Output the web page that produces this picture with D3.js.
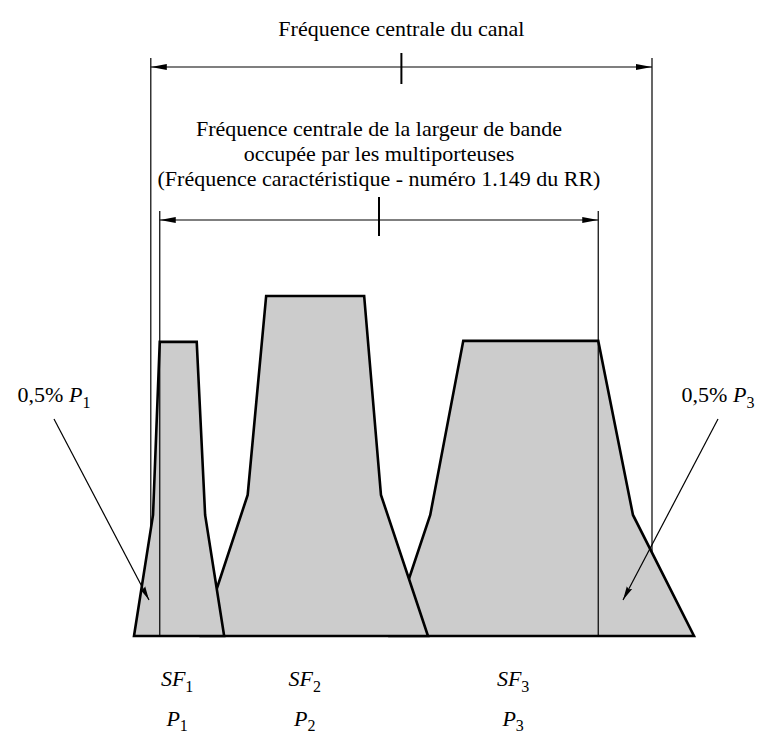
<!DOCTYPE html>
<html>
<head>
<meta charset="utf-8">
<script src="https://cdn.jsdelivr.net/npm/d3@7"></script>
<style>
  body { margin: 0; background: #fff; }
  svg text { font-family: "Liberation Serif", "DejaVu Serif", serif; }
</style>
</head>
<body>
<div id="chart"></div>
<script>
// frequency in arbitrary units (0..100), level in % of the highest carrier
const carriers = ["SF1", "SF2", "SF3"];
const powers = ["P1", "P2", "P3"];
const sf1Freq = [0, 3.4, 4.6, 11.2, 12.7, 16.1];
const sf1Level = [0, 35.6, 86.5, 86.5, 35.6, 0];
const sf2Freq = [12.0, 20.3, 23.6, 41.1, 44.1, 52.5];
const sf2Level = [0, 41.5, 100, 100, 41.5, 0];
const sf3Freq = [45.7, 52.9, 58.8, 82.9, 89.1, 100];
const sf3Level = [0, 35.6, 86.8, 86.8, 35.6, 0];
const labelFreq = [7.7, 30.5, 67.7];
const channelEdges = [3.0, 92.5];
const bandEdges = [4.6, 82.9];
const titles = ["Fréquence centrale du canal"];
const bandText = ["Fréquence centrale de la largeur de bande",
                  "occupée par les multiporteuses",
                  "(Fréquence caractéristique - numéro 1.149 du RR)"];

let width = 761,
    height = 734;

let x = d3.scaleLinear().domain([0, 100]).range([134, 694]);
let y = d3.scaleLinear().domain([0, 100]).range([636, 296]);

let svg = d3.select("#chart")
  .append("svg")
    .attr("width", width)
    .attr("height", height);

let defs = svg.append("defs");
defs.append("marker")
    .attr("id", "head")
    .attr("viewBox", "0 0 16 8")
    .attr("refX", 16).attr("refY", 4)
    .attr("markerWidth", 16).attr("markerHeight", 8)
    .attr("markerUnits", "userSpaceOnUse")
    .attr("orient", "auto-start-reverse")
  .append("path")
    .attr("d", "M0,1L16,4L0,7Z")
    .attr("fill", "#000");
defs.append("marker")
    .attr("id", "thin")
    .attr("viewBox", "0 0 14 8")
    .attr("refX", 14).attr("refY", 4)
    .attr("markerWidth", 14).attr("markerHeight", 8)
    .attr("markerUnits", "userSpaceOnUse")
    .attr("orient", "auto")
  .append("path")
    .attr("d", "M0,1L14,4L0,7L2,4Z")
    .attr("fill", "#000");

// outer channel lines, under the spectra
svg.selectAll(".outer")
  .data(channelEdges)
  .enter()
  .append("line")
    .attr("x1", d => x(d)).attr("x2", d => x(d))
    .attr("y1", 58).attr("y2", y(0))
    .attr("stroke", "#000").attr("stroke-width", 1.2);

// spectra drawn back to front
let shapes = [
  d3.zip(sf3Freq, sf3Level),
  d3.zip(sf2Freq, sf2Level),
  d3.zip(sf1Freq, sf1Level)
];
let line = d3.line().x(d => x(d[0])).y(d => y(d[1]));

svg.selectAll(".carrier")
  .data(shapes)
  .enter()
  .append("path")
    .attr("d", d => line(d) + "Z")
    .attr("fill", "#cccccc")
    .attr("stroke", "#000")
    .attr("stroke-width", 2.6)
    .attr("stroke-linejoin", "miter");

// inner band lines on top
svg.selectAll(".inner")
  .data(bandEdges)
  .enter()
  .append("line")
    .attr("x1", d => x(d)).attr("x2", d => x(d))
    .attr("y1", 211).attr("y2", y(0))
    .attr("stroke", "#000").attr("stroke-width", 1.2);

// dimension arrows with centre ticks
function dimension(edges, yy, tick) {
  svg.append("line")
    .attr("x1", x(edges[0])).attr("x2", x(edges[1]))
    .attr("y1", yy).attr("y2", yy)
    .attr("stroke", "#000").attr("stroke-width", 1.2)
    .attr("marker-start", "url(#head)")
    .attr("marker-end", "url(#head)");
  let c = x((edges[0] + edges[1]) / 2);
  svg.append("line")
    .attr("x1", c).attr("x2", c)
    .attr("y1", yy - tick[0]).attr("y2", yy + tick[1])
    .attr("stroke", "#000").attr("stroke-width", 2);
}
dimension(channelEdges, 67, [14, 17]);
dimension(bandEdges, 220, [23, 16]);

svg.append("text")
    .attr("x", x((channelEdges[0] + channelEdges[1]) / 2))
    .attr("y", 36)
    .attr("text-anchor", "middle")
    .style("font-size", "22px")
    .text(titles[0]);

svg.selectAll(".band-text")
  .data(bandText)
  .enter()
  .append("text")
    .attr("x", x((bandEdges[0] + bandEdges[1]) / 2))
    .attr("y", (d, i) => 136 + i * 25)
    .attr("text-anchor", "middle")
    .style("font-size", "22px")
    .text(d => d);

// italic letter + subscript digit
function italicSub(t, base, sub, drop) {
  t.append("tspan").style("font-style", "italic").text(base);
  t.append("tspan").attr("dy", drop).style("font-size", "16px").text(sub);
}

carriers.forEach((c, i) => {
  let t = svg.append("text")
    .attr("x", x(labelFreq[i])).attr("y", 686)
    .attr("text-anchor", "middle")
    .style("font-size", "22px");
  italicSub(t, c.slice(0, 2), c.slice(2), 6);
  let p = svg.append("text")
    .attr("x", x(labelFreq[i])).attr("y", 726)
    .attr("text-anchor", "middle")
    .style("font-size", "22px");
  italicSub(p, powers[i].slice(0, 1), powers[i].slice(1), 5);
});

// 0,5% labels with pointer arrows
let pointers = [
  {text: "0,5% ", p: powers[0], tx: 54, ty: 402, from: [54, 419], to: [149, 600]},
  {text: "0,5% ", p: powers[2], tx: 718, ty: 402, from: [718, 419], to: [623, 600]}
];
pointers.forEach(d => {
  let t = svg.append("text")
    .attr("x", d.tx).attr("y", d.ty)
    .attr("text-anchor", "middle")
    .style("font-size", "22px");
  t.append("tspan").text(d.text);
  italicSub(t, d.p.slice(0, 1), d.p.slice(1), 6);
  svg.append("line")
    .attr("x1", d.from[0]).attr("y1", d.from[1])
    .attr("x2", d.to[0]).attr("y2", d.to[1])
    .attr("stroke", "#000").attr("stroke-width", 1.2)
    .attr("marker-end", "url(#thin)");
});
</script>
</body>
</html>
